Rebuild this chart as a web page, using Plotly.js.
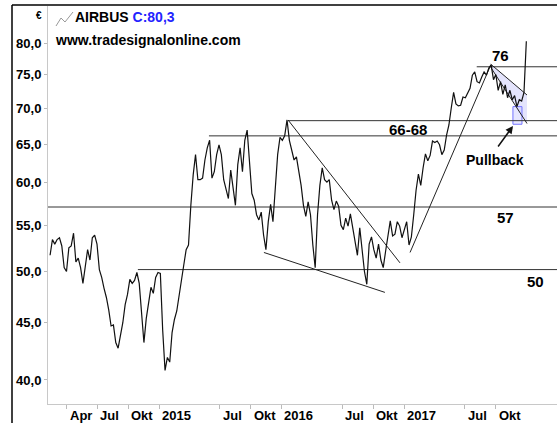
<!DOCTYPE html>
<html><head><meta charset="utf-8">
<script src="https://cdn.plot.ly/plotly-3.0.1.min.js"></script>
<style>html,body{margin:0;padding:0;background:#fff}#chart{width:557px;height:423px}</style>
</head><body><div id="chart"></div>
<script>
// weekly closes, first week 2014-02-10
const firstWeek = [2014, 1, 10];
const closes = [
51.7,53.4,52.9,53.4,53.6,52.7,50.4,50.0,52.5,52.7,
54.1,51.0,51.4,50.4,48.8,50.7,52.3,51.2,53.6,53.9,
52.9,50.2,49.4,48.3,47.4,46.2,44.7,44.8,43.2,42.7,
43.8,45.0,46.7,47.7,49.2,48.8,49.1,49.9,48.8,46.0,
43.2,45.4,47.0,48.4,47.8,49.4,49.9,49.8,44.3,40.8,
41.9,41.5,44.1,45.3,46.1,47.6,49.6,50.7,52.3,52.8,
57.3,61.0,63.6,60.4,60.4,60.6,62.9,64.5,65.5,60.6,
61.4,63.6,64.9,63.6,60.4,59.3,58.1,61.6,59.7,57.3,
62.3,64.5,61.4,65.5,66.9,62.3,58.7,57.9,56.2,55.6,
56.5,53.9,52.3,55.4,57.4,55.4,59.3,63.6,65.9,65.5,
66.1,68.3,65.5,64.2,62.9,63.3,61.4,59.7,57.3,56.0,
57.7,56.2,52.8,50.4,56.2,59.7,61.9,60.4,60.1,60.4,
57.9,56.8,57.8,57.2,55.0,54.5,55.8,54.9,56.3,54.7,
52.8,51.7,54.7,51.9,50.0,48.7,52.9,53.7,52.3,51.4,
52.9,51.2,50.4,52.1,53.6,55.5,53.8,54.0,55.4,54.9,
53.6,54.5,55.4,52.8,53.7,56.2,59.1,61.1,59.7,61.9,
63.7,62.8,63.5,65.4,65.2,65.4,64.9,63.6,64.2,66.2,
67.6,70.0,72.3,70.6,70.3,70.4,71.6,71.5,72.3,72.9,
74.9,75.4,73.9,73.7,74.6,75.4,74.9,76.0,76.5,74.2,
75.0,72.6,73.9,72.0,73.4,71.5,72.6,71.2,71.8,70.2,
71.2,71.0,72.3,80.3
];
const tickDates = ['2014-04-01','2014-07-01','2014-10-01','2015-01-01','2015-07-01','2015-10-01','2016-01-01','2016-07-01','2016-10-01','2017-01-01','2017-07-01','2017-10-01'];
const tickLabels = ['Apr','Jul','Okt','2015','Jul','Okt','2016','Jul','Okt','2017','Jul','Okt'];
const yTicks = [40,45,50,55,60,65,70,75,80];
const levelValues = [76.2, 68.2, 66.1, 57.1, 50.2];
const levelStarts = ['2017-08-06','2016-01-21','2015-05-30','2014-02-03','2014-10-30'];
const trendDates = [['2016-01-21','2016-12-20'],['2015-11-10','2016-11-05'],['2017-01-19','2017-09-17']];
const trendValues = [[68.3,50.9],[52.0,47.9],[52.0,76.5]];
const channelDates = ['2017-09-17','2018-01-03'];
const channelUpper = [76.6, 71.9];
const channelLower = [76.1, 67.8];
const boxDates = ['2017-11-22','2017-12-19'];
const boxValues = [67.7, 70.2];
const xRange = ['2014-02-03 19:00','2018-04-02 12:00'];
const yRange = [38.07, 86.35];

const dates = closes.map((_, i) => {
  const d = new Date(Date.UTC(firstWeek[0], firstWeek[1], firstWeek[2]));
  d.setUTCDate(d.getUTCDate() + 7 * i);
  return d.toISOString().slice(0, 10);
});

const F = 'Liberation Sans, Arial, sans-serif';
const traces = [];
traces.push({x:[channelDates[0],channelDates[1],channelDates[1],channelDates[0]], y:[channelUpper[0],channelUpper[1],channelLower[1],channelLower[0]],
  mode:'lines', fill:'toself', fillcolor:'rgba(214,214,250,0.65)', line:{width:0}, hoverinfo:'skip'});
traces.push({x:[boxDates[0],boxDates[1],boxDates[1],boxDates[0],boxDates[0]], y:[boxValues[0],boxValues[0],boxValues[1],boxValues[1],boxValues[0]],
  mode:'lines', fill:'toself', fillcolor:'rgba(205,205,255,0.5)', line:{width:1, color:'#7474ff'}, hoverinfo:'skip'});
levelValues.forEach((v, k) => traces.push({x:[levelStarts[k], xRange[1]], y:[v, v], mode:'lines', line:{color:'#333', width:1}, hoverinfo:'skip'}));
trendDates.forEach((d, k) => traces.push({x:d, y:trendValues[k], mode:'lines', line:{color:'#222', width:1}, hoverinfo:'skip'}));
traces.push({x:channelDates, y:channelUpper, mode:'lines', line:{color:'#222', width:1}});
traces.push({x:channelDates, y:channelLower, mode:'lines', line:{color:'#222', width:1}});
traces.push({x:dates, y:closes, mode:'lines', line:{color:'#111', width:1.2}});

const px = x => (x - 48) / 509, py = y => (404 - y) / 398;
const lab = (t, x, y, size, anchor) => ({text:t, xref:'paper', yref:'paper', x:px(x), y:py(y), xanchor:anchor||'center', yanchor:'middle', showarrow:false,
  font:{family:F, size:size||14, weight:'bold', color:'#000'}});
const ann = [];
tickDates.forEach((d, k) => ann.push({text:tickLabels[k], xref:'x', yref:'paper', x:d, y:0, xanchor:'left', yanchor:'top', xshift:1, yshift:-2, showarrow:false,
  font:{family:F, size:13, weight:'bold', color:'#000'}}));
ann.push(lab('76', 500, 56, 15));
ann.push(lab('66-68', 408, 129, 15));
ann.push(lab('57', 505, 217, 15));
ann.push(lab('50', 535, 281, 15));
ann.push(lab('Pullback', 495, 160, 14));
ann.push(lab('www.tradesignalonline.com', 53, 40, 14, 'left'));
ann.push(lab('€', 44, 15, 10, 'right'));
ann.push({text:'', xref:'paper', yref:'paper', x:px(513), y:py(126), ax:-16, ay:22, showarrow:true, arrowhead:2, arrowsize:1, arrowwidth:1.5, arrowcolor:'#111'});

const shapes = [
  {type:'line', xref:'paper', yref:'paper', x0:px(12), x1:px(557), y0:py(5), y1:py(5), line:{color:'#000', width:1.5}},
  {type:'line', xref:'paper', yref:'paper', x0:px(12), x1:px(12), y0:py(5), y1:py(423), line:{color:'#000', width:1.5}},
  {type:'path', xref:'paper', yref:'paper', path:`M ${px(56)} ${py(26)} L ${px(61)} ${py(18)} L ${px(65)} ${py(22)} L ${px(73)} ${py(12)}`, line:{color:'#999', width:1}}
];

const layout = {
  width:557, height:423, margin:{l:48, r:0, t:6, b:19}, showlegend:false,
  paper_bgcolor:'#fff', plot_bgcolor:'#fff', separators:',.',
  title:{text:'AIRBUS <span style="color:#2323ff">C:80,3</span>', font:{family:F, size:14, weight:'bold', color:'#000'},
    xref:'paper', x:px(75), xanchor:'left', yref:'container', y:1-17/423, yanchor:'middle'},
  xaxis:{type:'date', range:xRange, tickvals:tickDates, ticks:'outside', ticklen:4, tickcolor:'#bbb', showticklabels:false,
    showline:true, linecolor:'#c8c8c8', linewidth:1, showgrid:false, zeroline:false},
  yaxis:{type:'log', range:yRange.map(Math.log10), tickvals:yTicks, tickformat:'.1f', ticks:'outside', ticklen:3, tickcolor:'#bbb',
    showline:true, linecolor:'#c8c8c8', linewidth:1, showgrid:false, zeroline:false,
    tickfont:{family:F, size:13, weight:'bold', color:'#000'}},
  annotations:ann, shapes:shapes
};
Plotly.newPlot('chart', traces, layout, {staticPlot:true, displayModeBar:false});
</script></body></html>
